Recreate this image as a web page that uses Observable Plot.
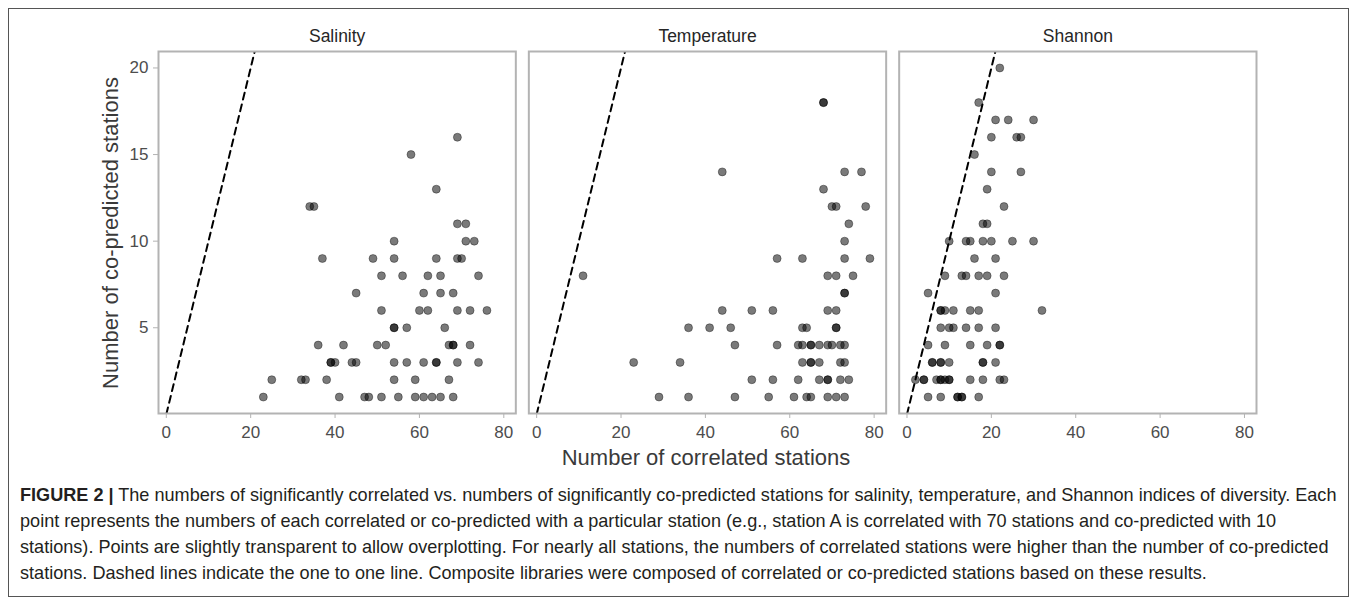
<!DOCTYPE html>
<html>
<head>
<meta charset="utf-8">
<script src="https://cdn.jsdelivr.net/npm/d3@7"></script>
<script src="https://cdn.jsdelivr.net/npm/@observablehq/plot@0.6"></script>
<style>
  html, body { margin: 0; padding: 0; background: #fff; }
  body { width: 1358px; height: 606px; position: relative; overflow: hidden;
         font-family: "Liberation Sans", Arial, sans-serif; }
  #frame { position: absolute; left: 8px; top: 8px; width: 1341px; height: 589px;
           border: 1px solid #555; box-sizing: border-box; }
  #chart { position: absolute; left: 0; top: 0; }
  #ytitle { position: absolute; left: 111px; top: 233px; transform: translate(-50%, -50%) rotate(-90deg);
            font-size: 22px; color: #3a3a3a; white-space: nowrap; }
  #xtitle { position: absolute; left: 706px; top: 458px; transform: translate(-50%, -50%);
            font-size: 22px; color: #3a3a3a; white-space: nowrap; }
  #caption { position: absolute; left: 20px; top: 482px; font-size: 18.1px; line-height: 26px;
             color: #231f20; white-space: nowrap; }
  #caption b { font-weight: bold; }
</style>
</head>
<body>
<div id="frame"></div>
<div id="chart"></div>
<div id="ytitle"></div>
<div id="xtitle"></div>
<div id="caption"></div>
<script>
// ---- data ----
const panels = ["Salinity", "Temperature", "Shannon"];
const xTicks = [0, 20, 40, 60, 80];
const yTicks = [5, 10, 15, 20];
const oneToOneLine = [0, 25];
const yTitle = "Number of co-predicted stations";
const xTitle = "Number of correlated stations";

// [correlated, co-predicted]
const salinity = [
  [69,16],[58,15],[64,13],[34,12],[35,12],[69,11],[71,11],
  [54,10],[71,10],[73,10],
  [37,9],[49,9],[54,9],[64,9],[69,9],[70,9],
  [51,8],[56,8],[62,8],[65,8],[74,8],
  [45,7],[61,7],[65,7],[68,7],
  [51,6],[60,6],[62,6],[69,6],[72,6],[76,6],
  [54,5],[54,5],[57,5],[66,5],
  [36,4],[42,4],[50,4],[52,4],[67,4],[68,4],[68,4],[72,4],
  [39,3],[39,3],[40,3],[44,3],[45,3],[54,3],[57,3],[61,3],[64,3],[64,3],[69,3],[74,3],
  [25,2],[32,2],[33,2],[38,2],[54,2],[59,2],[67,2],
  [23,1],[41,1],[47,1],[48,1],[51,1],[55,1],[59,1],[61,1],[63,1],[65,1],[68,1]
];
const temperature = [
  [68,18],[68,18],
  [44,14],[73,14],[77,14],
  [68,13],
  [70,12],[71,12],[78,12],
  [74,11],
  [73,10],
  [57,9],[63,9],[73,9],[79,9],
  [11,8],[69,8],[71,8],[75,8],
  [73,7],[73,7],
  [44,6],[51,6],[56,6],[69,6],[71,6],
  [36,5],[41,5],[46,5],[63,5],[64,5],[71,5],[71,5],
  [47,4],[57,4],[62,4],[63,4],[65,4],[65,4],[67,4],[69,4],[70,4],[72,4],[73,4],
  [23,3],[34,3],[63,3],[65,3],[65,3],[67,3],[72,3],[73,3],
  [51,2],[56,2],[62,2],[67,2],[69,2],[69,2],[72,2],[74,2],
  [29,1],[36,1],[47,1],[55,1],[61,1],[64,1],[65,1],[69,1],[71,1],[73,1]
];
const shannon = [
  [22,20],[17,18],
  [21,17],[24,17],[30,17],
  [20,16],[26,16],[27,16],
  [16,15],
  [20,14],[27,14],
  [19,13],[23,12],[18,11],[19,11],
  [10,10],[14,10],[15,10],[18,10],[20,10],[25,10],[30,10],
  [16,9],[21,9],
  [9,8],[13,8],[14,8],[17,8],[19,8],[23,8],
  [5,7],[21,7],
  [8,6],[8,6],[9,6],[11,6],[15,6],[17,6],[32,6],
  [8,5],[10,5],[11,5],[14,5],[17,5],[21,5],
  [5,4],[9,4],[15,4],[19,4],[22,4],[22,4],
  [6,3],[6,3],[8,3],[8,3],[10,3],[18,3],[18,3],[21,3],
  [2,2],[4,2],[4,2],[7,2],[8,2],[8,2],[9,2],[10,2],[10,2],[15,2],[18,2],[22,2],[23,2],
  [5,1],[8,1],[12,1],[12,1],[13,1],[13,1],[17,1]
];

// ---- table ----
const points = [
  ...salinity.map(([x, y]) => ({panel: panels[0], x, y})),
  ...temperature.map(([x, y]) => ({panel: panels[1], x, y})),
  ...shannon.map(([x, y]) => ({panel: panels[2], x, y}))
];

const W = 1358, H = 480;
const plot = Plot.plot({
  width: W, height: H,
  marginLeft: 158, marginRight: W - 1256, marginTop: 51, marginBottom: H - 413,
  fx: {domain: panels, paddingInner: 13 / 370, paddingOuter: 0, round: false, label: null},
  x: {domain: [-1.85, 82.85]},
  y: {domain: [0.05, 20.95]},
  style: {fontFamily: "'Liberation Sans', Arial, sans-serif", background: "transparent", overflow: "visible"},
  marks: [
    Plot.line(oneToOneLine, {x: d => d, y: d => d, stroke: "#000", strokeWidth: 2,
      strokeDasharray: "7 5", clip: true}),
    Plot.dot(points, {fx: "panel", x: "x", y: "y", r: 4, fill: "#000", fillOpacity: 0.52,
      stroke: "#000", strokeOpacity: 0.45, strokeWidth: 0.8}),
    Plot.frame({stroke: "#b3b3b3", strokeWidth: 2}),
    Plot.axisX({ticks: xTicks, tickSize: 5, tickPadding: 7, fontSize: 17,
      stroke: "#b3b3b3", fill: "#4d4d4d", label: null}),
    Plot.axisY({ticks: yTicks, tickSize: 5, tickPadding: 5, fontSize: 17,
      stroke: "#b3b3b3", fill: "#4d4d4d", label: null}),
    Plot.axisFx({anchor: "top", tickSize: 0, tickPadding: 10, fontSize: 17.5,
      fill: "#262626", label: null})
  ]
});
document.getElementById("chart").appendChild(plot);
document.getElementById("ytitle").textContent = yTitle;
document.getElementById("xtitle").textContent = xTitle;
document.getElementById("caption").innerHTML =
  "<b>FIGURE 2 |</b> The numbers of significantly correlated vs. numbers of significantly co-predicted stations for salinity, temperature, and Shannon indices of diversity. Each<br>" +
  "point represents the numbers of each correlated or co-predicted with a particular station (e.g., station A is correlated with 70 stations and co-predicted with 10<br>" +
  "stations). Points are slightly transparent to allow overplotting. For nearly all stations, the numbers of correlated stations were higher than the number of co-predicted<br>" +
  "stations. Dashed lines indicate the one to one line. Composite libraries were composed of correlated or co-predicted stations based on these results.";
</script>
</body>
</html>
